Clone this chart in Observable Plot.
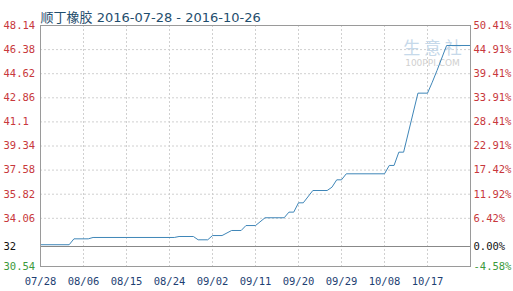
<!DOCTYPE html>
<html><head><meta charset="utf-8">
<script src="https://cdn.jsdelivr.net/npm/d3@7"></script>
<script src="https://cdn.jsdelivr.net/npm/@observablehq/plot@0.6"></script>
<style>html,body{margin:0;padding:0;background:#fff} svg{display:block}</style>
</head><body><div id="chart"></div>
<script>
const title = "顺丁橡胶 2016-07-28 - 2016-10-26";
const dates = ["2016-07-28","2016-08-03","2016-08-04","2016-08-07","2016-08-08","2016-08-25","2016-08-26","2016-08-29","2016-08-30","2016-09-01","2016-09-02","2016-09-04","2016-09-06","2016-09-08","2016-09-09","2016-09-11","2016-09-13","2016-09-17","2016-09-18","2016-09-19","2016-09-20","2016-09-21","2016-09-23","2016-09-26","2016-09-27","2016-09-28","2016-09-29","2016-09-30","2016-10-08","2016-10-09","2016-10-10","2016-10-11","2016-10-12","2016-10-15","2016-10-17","2016-10-18","2016-10-19","2016-10-21","2016-10-26"];
const prices = [32.13,32.13,32.56,32.56,32.66,32.66,32.73,32.73,32.49,32.49,32.80,32.80,33.17,33.17,33.53,33.53,34.10,34.10,34.51,34.51,35.19,35.19,36.09,36.09,36.33,36.87,36.87,37.31,37.31,37.92,37.92,38.89,38.89,43.20,43.20,44.00,44.86,46.68,46.68];
const basePrice = 32;
const yTicks = [48.14,46.38,44.62,42.86,41.1,39.34,37.58,35.82,34.06,32,30.54];
const yTickLabels = ["48.14","46.38","44.62","42.86","41.1","39.34","37.58","35.82","34.06","32","30.54"];
const pctLabels = ["50.41%","44.91%","39.41%","33.91%","28.41%","22.91%","17.42%","11.92%","6.42%","0.00%","-4.58%"];
const xTicks = ["2016-07-28","2016-08-06","2016-08-15","2016-08-24","2016-09-02","2016-09-11","2016-09-20","2016-09-29","2016-10-08","2016-10-17"];
const xTickLabels = ["07/28","08/06","08/15","08/24","09/02","09/11","09/20","09/29","10/08","10/17"];
const watermark = ["生 意 社", "100PPI.COM"];
const domainStart = "2016-07-28", domainEnd = "2016-10-26";

const parse = s => new Date(s + "T00:00:00Z");
const data = dates.map((d, i) => ({date: parse(d), price: prices[i]}));
const xTickDates = xTicks.map(parse);
const red = "#c8383c", green = "#3c9a3c", black = "#111";
const tickColor = v => v > basePrice ? red : (v === basePrice ? black : green);
const mono = "'DejaVu Sans Mono', monospace";

const chart = Plot.plot({
  width: 513, height: 291,
  marginTop: 25, marginBottom: 25, marginLeft: 40, marginRight: 43,
  style: {fontFamily: mono, fontSize: "10.5px", background: "#fff"},
  x: {type: "utc", domain: [parse(domainStart), parse(domainEnd)]},
  y: {domain: [30.54, 48.14]},
  marks: [
    Plot.ruleY(yTicks.filter(v => v !== basePrice && v !== 30.54 && v !== 48.14), {stroke: "#d0d0d0", strokeDasharray: "2,2"}),
    Plot.ruleX(xTickDates.slice(1), {stroke: "#d0d0d0", strokeDasharray: "2,2"}),
    Plot.ruleY([basePrice], {stroke: "#888"}),
    Plot.text([watermark[0]], {frameAnchor: "top-right", textAnchor: "middle", dx: -38, dy: 16, fontSize: 17, fill: "#c6d9ea", fontFamily: "'Noto Sans CJK SC', sans-serif"}),
    Plot.text([watermark[1]], {frameAnchor: "top-right", textAnchor: "middle", dx: -38, dy: 34, fontSize: 9, fill: "#d0d0d0", fontFamily: "'DejaVu Sans', sans-serif"}),
    Plot.line(data, {x: "date", y: "price", stroke: "#3f86b8", strokeWidth: 1}),
    Plot.frame({stroke: "#9a9a9a"}),
    Plot.axisY(yTicks, {anchor: "left", tickSize: 0, tickPadding: 0, dx: -37, textAnchor: "start", label: null,
      tickFormat: v => yTickLabels[yTicks.indexOf(v)], fill: tickColor}),
    Plot.axisY(yTicks, {anchor: "right", tickSize: 0, tickPadding: 3, textAnchor: "start", label: null,
      tickFormat: v => pctLabels[yTicks.indexOf(v)], fill: tickColor}),
    Plot.axisX(xTickDates, {anchor: "bottom", tickSize: 0, tickPadding: 11, label: null,
      tickFormat: d => xTickLabels[xTickDates.findIndex(t => +t === +d)], fill: "#1e3f73"}),
    Plot.text([title], {frameAnchor: "top-left", dy: -13, textAnchor: "start", fontSize: 13, fill: "#1f4e6e",
      fontFamily: "'DejaVu Sans', 'Noto Sans CJK SC', sans-serif"})
  ]
});
document.getElementById("chart").appendChild(chart);
</script>
</body></html>
